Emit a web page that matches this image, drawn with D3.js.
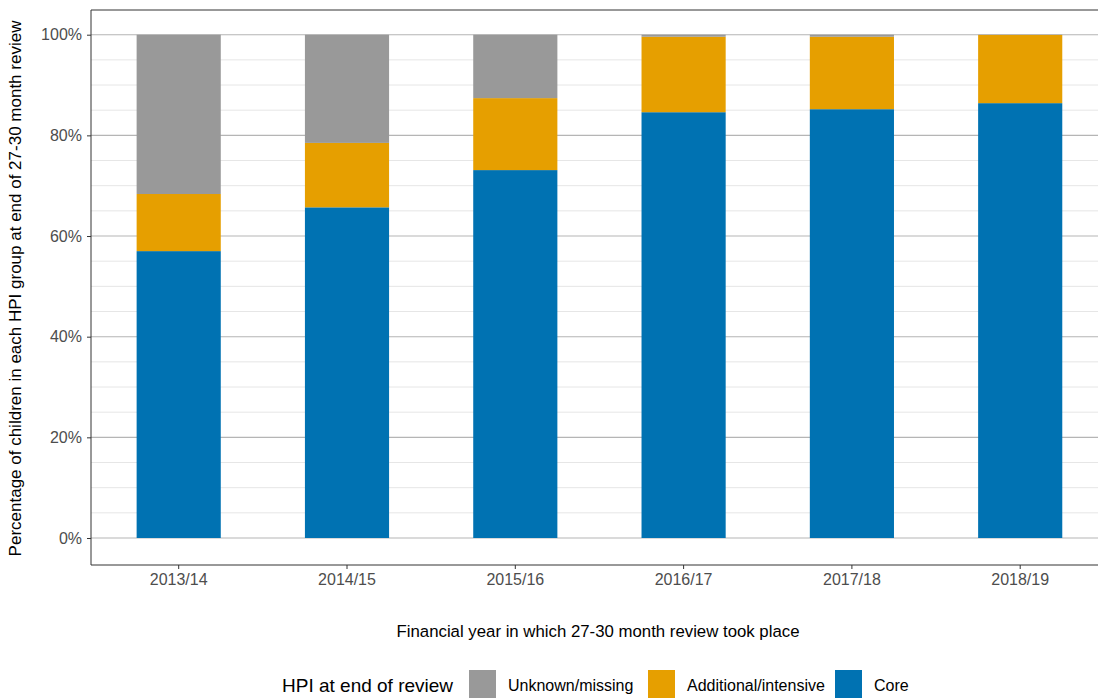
<!DOCTYPE html>
<html>
<head>
<meta charset="utf-8">
<script src="https://cdn.jsdelivr.net/npm/d3@7"></script>
<style>
  html, body { margin: 0; padding: 0; background: #fff; }
  svg { display: block; font-family: "Liberation Sans", Arial, sans-serif; }
</style>
</head>
<body>
<svg id="chart" width="1098" height="698"></svg>
<script>
// ---- data ----
const years = ["2013/14", "2014/15", "2015/16", "2016/17", "2017/18", "2018/19"];
const core = [57.0, 65.7, 73.1, 84.6, 85.2, 86.4];
const additional = [11.35, 12.8, 14.3, 15.0, 14.4, 13.55];
const unknown = [31.65, 21.5, 12.6, 0.4, 0.4, 0.05];
const seriesKeys = ["Core", "Additional/intensive", "Unknown/missing"];
const legendOrder = ["Unknown/missing", "Additional/intensive", "Core"];
const colors = { "Core": "#0072B2", "Additional/intensive": "#E69F00", "Unknown/missing": "#999999" };
const yTicks = [0, 20, 40, 60, 80, 100];
const yMinor = d3.range(0, 101, 5);

const rows = years.map((y, i) => ({
  year: y,
  "Core": core[i],
  "Additional/intensive": additional[i],
  "Unknown/missing": unknown[i]
}));

// ---- layout ----
const svg = d3.select("#chart");
const panel = { left: 91, right: 1104, top: 10, bottom: 565 };

const x = d3.scaleBand().domain(years).range([94.55, 1104.35]).paddingInner(0.5).paddingOuter(0.25);
const y = d3.scaleLinear().domain([0, 100]).range([538, 34.7]);

// minor gridlines
svg.append("g").selectAll("line").data(yMinor.filter(v => !yTicks.includes(v))).join("line")
  .attr("x1", panel.left).attr("x2", panel.right)
  .attr("y1", d => y(d)).attr("y2", d => y(d))
  .attr("stroke", "#e6e6e6").attr("stroke-width", 1);

// major gridlines
svg.append("g").selectAll("line").data(yTicks).join("line")
  .attr("x1", panel.left).attr("x2", panel.right)
  .attr("y1", d => y(d)).attr("y2", d => y(d))
  .attr("stroke", "#b5b5b5").attr("stroke-width", 1.1);

// stacked bars
const stacked = d3.stack().keys(seriesKeys)(rows);
svg.append("g").selectAll("g").data(stacked).join("g")
  .attr("fill", d => colors[d.key])
  .selectAll("rect").data(d => d).join("rect")
  .attr("x", d => x(d.data.year))
  .attr("width", x.bandwidth())
  .attr("y", d => y(d[1]))
  .attr("height", d => Math.max(0, y(d[0]) - y(d[1])));

// panel top border
svg.append("line").attr("x1", panel.left).attr("x2", panel.right).attr("y1", panel.top).attr("y2", panel.top)
  .attr("stroke", "#333").attr("stroke-width", 1);

// y axis
const yAxis = svg.append("g").attr("transform", `translate(${panel.left},0)`)
  .call(d3.axisLeft(y).tickValues(yTicks).tickFormat(d => d + "%").tickSize(4).tickPadding(5));
yAxis.select(".domain").attr("d", `M0,${panel.top}V${panel.bottom}`).attr("stroke", "#333");
yAxis.selectAll(".tick line").attr("stroke", "#333");
yAxis.selectAll(".tick text").attr("fill", "#4d4d4d").style("font-size", "16px").attr("font-family", null);

// x axis
const xAxis = svg.append("g").attr("transform", `translate(0,${panel.bottom})`)
  .call(d3.axisBottom(x).tickSize(4).tickPadding(5));
xAxis.select(".domain").attr("d", `M${panel.left},0H${panel.right}`).attr("stroke", "#333");
xAxis.selectAll(".tick line").attr("stroke", "#333");
xAxis.selectAll(".tick text").attr("fill", "#4d4d4d").style("font-size", "16px").attr("font-family", null);

// axis titles
svg.append("text")
  .attr("transform", `translate(21,${(panel.top + panel.bottom) / 2 + 1}) rotate(-90)`)
  .attr("text-anchor", "middle")
  .style("font-size", "17px").attr("fill", "#000")
  .text("Percentage of children in each HPI group at end of 27-30 month review");

svg.append("text")
  .attr("x", 598).attr("y", 637)
  .attr("text-anchor", "middle")
  .style("font-size", "16.8px").attr("fill", "#000")
  .text("Financial year in which 27-30 month review took place");

// legend
const legend = svg.append("g");
legend.append("text").attr("x", 282).attr("y", 692)
  .style("font-size", "19px").attr("fill", "#000")
  .text("HPI at end of review");
const legendX = [469, 648, 835];
const legendItems = legend.selectAll("g.item").data(legendOrder).join("g").attr("class", "item")
  .attr("transform", (d, i) => `translate(${legendX[i]},670)`);
legendItems.append("rect").attr("width", 27).attr("height", 28).attr("fill", d => colors[d]);
legendItems.append("text").attr("x", 39).attr("y", 21)
  .style("font-size", "16px").attr("fill", "#000")
  .text(d => d);
</script>
</body>
</html>
